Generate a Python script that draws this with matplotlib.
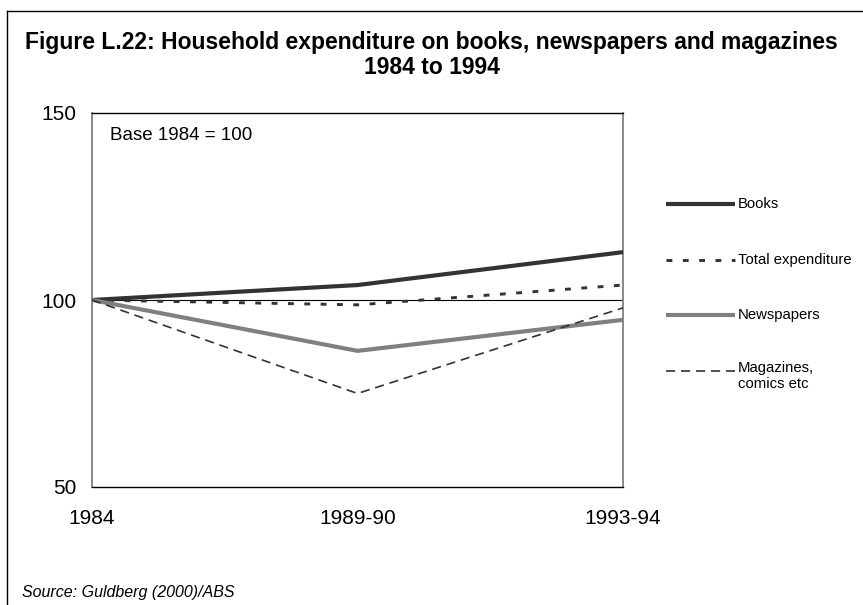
import matplotlib
matplotlib.use("Agg")
import matplotlib.pyplot as plt
from matplotlib.lines import Line2D

plt.rcParams["font.family"] = ["Liberation Sans", "DejaVu Sans"]

# Index values, base 1984 = 100
periods = ["1984", "1989-90", "1993-94"]
books = [100, 104.0, 112.8]
total_exp = [100, 98.7, 104.0]
newspapers = [100, 86.4, 94.7]
magazines = [100, 75.0, 97.9]

y_ticks = [50, 100, 150]

# line styles shared by plot and hand-drawn legend
books_style = dict(color="#333333", linewidth=3.0, solid_capstyle="butt")
total_style = dict(color="#333333", linewidth=2.1, linestyle=(0, (2.0, 3.6)))
news_style = dict(color="#808080", linewidth=3.0, solid_capstyle="butt")
mags_style = dict(color="#333333", linewidth=1.2, linestyle=(0, (5.5, 3.5)))

fig = plt.figure(figsize=(8.63, 6.05), dpi=100)
ax = fig.add_axes([92 / 863, 1 - 487 / 605, 531 / 863, 374 / 605])

x = range(len(periods))
ax.axhline(100, color="black", linewidth=0.8, zorder=1)
ax.plot(x, books, zorder=3, **books_style)
ax.plot(x, total_exp, zorder=3, **total_style)
ax.plot(x, newspapers, zorder=3, **news_style)
ax.plot(x, magazines, zorder=3, **mags_style)

ax.set_xlim(0, len(periods) - 1)
ax.set_ylim(50, 150)
ax.set_yticks(y_ticks)
ax.set_xticks(list(x))
ax.set_xticklabels(periods)
ax.tick_params(axis="both", length=0, labelsize=15)
ax.tick_params(axis="x", pad=15.5)
ax.tick_params(axis="y", pad=11)

for side in ("left", "right"):
    ax.spines[side].set_color("#808080")
    ax.spines[side].set_linewidth(1.3)
for side in ("top", "bottom"):
    ax.spines[side].set_color("black")
    ax.spines[side].set_linewidth(1.0)

ax.text(18 / 531, 1 - 22 / 374, "Base 1984 = 100", transform=ax.transAxes,
        fontsize=13.5, va="center", ha="left")

# Legend drawn by hand to the right of the plot
legend_items = [
    ("Books", books_style, 204),
    ("Total expenditure", total_style, 260),
    ("Newspapers", news_style, 315),
    ("Magazines,\ncomics etc", mags_style, 371),
]
for label, style, yy in legend_items:
    yf = 1 - yy / 605
    fig.add_artist(Line2D([666 / 863, 735 / 863], [yf, yf], **style))
    if "\n" in label:
        fig.text(738 / 863, yf + 10 / 605, label, fontsize=10.75, va="top",
                 ha="left", linespacing=1.15)
    else:
        fig.text(738 / 863, yf, label, fontsize=10.75, va="center", ha="left")

fig.text(0.5, 1 - 43 / 605, "Figure L.22: Household expenditure on books, newspapers and magazines",
         fontsize=16.5, fontweight="bold", ha="center", va="center")
fig.text(0.5, 1 - 68 / 605, "1984 to 1994",
         fontsize=16.5, fontweight="bold", ha="center", va="center")
fig.text(22 / 863, 1 - 592 / 605, "Source: Guldberg (2000)/ABS",
         fontsize=11.5, style="italic", ha="left", va="center")

# Outer frame (left and top edges visible)
fig.add_artist(Line2D([7 / 863, 7 / 863], [0, 1 - 11 / 605], color="black", linewidth=1.0))
fig.add_artist(Line2D([7 / 863, 1], [1 - 11 / 605, 1 - 11 / 605], color="black", linewidth=1.0))

fig.savefig("out.png", dpi=100)
